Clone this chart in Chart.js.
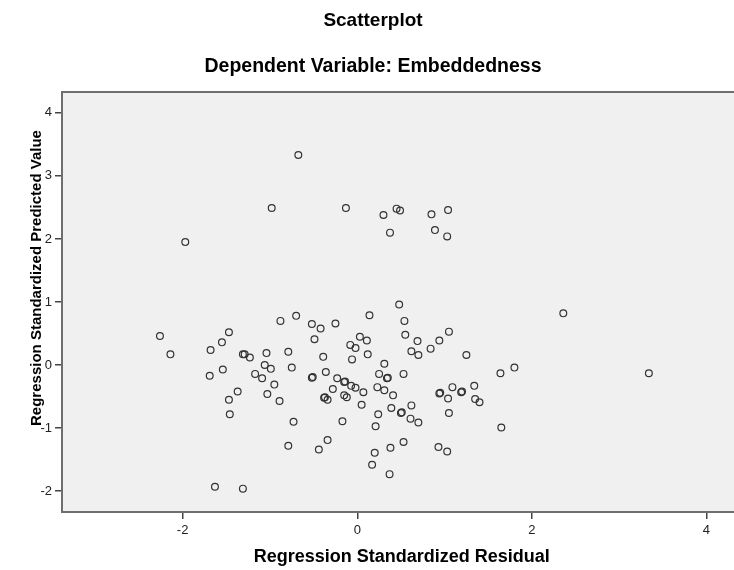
<!DOCTYPE html>
<html>
<head>
<meta charset="utf-8">
<script src="https://cdn.jsdelivr.net/npm/chart.js@4.4.1/dist/chart.umd.min.js"></script>
<style>
  html, body { margin: 0; padding: 0; background: #fff; overflow: hidden; }
  #wrap { width: 746px; height: 570px; }
</style>
</head>
<body>
<div id="wrap"><canvas id="chart"></canvas></div>
<script>
// Regression Standardized Residual (x) / Predicted Value (y)
const residual = [
  -0.675, -0.98, -0.13, 0.30, 0.375, -1.97, 0.45, 0.49, 0.85, 1.04, 0.89, 1.03, 0.48,
  2.36, 1.64, 1.80, 1.65, 3.34,
  -0.88, -2.26, -2.14, -1.47, -1.55, -1.68, -1.31, -1.29, -1.23, -1.04, -1.06, -0.99,
  -1.54, -1.69, -1.17, -1.09, -0.95, -1.37, -1.03, -0.89, -1.47, -1.46, -1.63, -1.31,
  -0.70, -0.52, -0.42, -0.25, 0.14, 0.54, -0.49, 0.55, 0.69, 0.94, 1.05, 0.84, 0.62,
  0.70, 1.25, 0.03, 0.11, -0.08, -0.02, 0.12, -0.06, 0.31, -0.79, -0.39, -0.75, -0.36,
  -0.52, -0.51, -0.23, -0.15, -0.14, -0.07, -0.02, -0.28, 0.07, 0.25, 0.34, 0.35, 0.53,
  0.23, 0.31, 0.41, -0.38, -0.37, -0.34, -0.15, -0.12, 0.05, 0.39, 0.62, 0.50, 0.51,
  0.61, 0.70, 0.24, 0.21, -0.73, -0.17, 0.94, 0.95, 1.09, 1.19, 1.20, 1.04, 1.34, 1.35,
  1.40, 1.05, -0.79, -0.44, -0.34, 0.20, 0.17, 0.38, 0.53, 0.37, 0.93, 1.03
];
const predicted = [
  3.33, 2.49, 2.49, 2.38, 2.10, 1.95, 2.48, 2.45, 2.39, 2.46, 2.14, 2.04, 0.96,
  0.82, -0.13, -0.04, -0.99, -0.13,
  0.70, 0.46, 0.17, 0.52, 0.36, 0.24, 0.17, 0.17, 0.12, 0.19, 0.00, -0.06,
  -0.07, -0.17, -0.14, -0.21, -0.31, -0.42, -0.46, -0.57, -0.55, -0.78, -1.93, -1.96,
  0.78, 0.65, 0.58, 0.66, 0.79, 0.70, 0.41, 0.48, 0.38, 0.39, 0.53, 0.26, 0.22,
  0.16, 0.16, 0.45, 0.39, 0.32, 0.27, 0.17, 0.09, 0.02, 0.21, 0.13, -0.04, -0.11,
  -0.20, -0.19, -0.21, -0.27, -0.26, -0.33, -0.36, -0.38, -0.43, -0.14, -0.21, -0.20, -0.14,
  -0.35, -0.40, -0.48, -0.52, -0.51, -0.55, -0.48, -0.51, -0.63, -0.68, -0.64, -0.76, -0.75,
  -0.85, -0.91, -0.78, -0.97, -0.90, -0.89, -0.45, -0.44, -0.35, -0.43, -0.42, -0.53, -0.33, -0.54,
  -0.59, -0.76, -1.28, -1.34, -1.19, -1.39, -1.58, -1.31, -1.22, -1.73, -1.30, -1.37
];
const xTicks = [-2, 0, 2, 4];
const yTicks = [-2, -1, 0, 1, 2, 3, 4];
const yTitle = 'Regression Standardized Predicted Value';

const FONT = "'Liberation Sans', Arial, sans-serif";

// grey plot panel + frame
const panel = {
  id: 'panel',
  beforeDatasetsDraw(chart) {
    const { ctx, chartArea: a } = chart;
    ctx.save();
    ctx.fillStyle = '#f0f0f0';
    ctx.fillRect(a.left, a.top, a.right - a.left, a.bottom - a.top);
    ctx.strokeStyle = '#6e6e6e';
    ctx.lineWidth = 2;
    ctx.strokeRect(a.left, a.top, a.right - a.left, a.bottom - a.top);
    ctx.restore();
  }
};

// SPSS puts the y title a bit above the middle of the panel
const yTitlePlugin = {
  id: 'yTitle',
  afterDraw(chart) {
    const { ctx, chartArea: a } = chart;
    ctx.save();
    ctx.translate(37, (a.top + a.bottom) / 2 - 24);
    ctx.rotate(-Math.PI / 2);
    ctx.font = 'bold 15px ' + FONT;
    ctx.fillStyle = '#000';
    ctx.textAlign = 'center';
    ctx.textBaseline = 'middle';
    ctx.fillText(yTitle, 0, 0);
    ctx.restore();
  }
};

new Chart(document.getElementById('chart'), {
  type: 'scatter',
  data: {
    datasets: [{
      data: residual.map((x, i) => ({ x: x, y: predicted[i] })),
      pointStyle: 'circle',
      pointRadius: 3.4,
      pointHoverRadius: 3.4,
      borderWidth: 1.2,
      borderColor: '#333',
      backgroundColor: 'rgba(0,0,0,0)'
    }]
  },
  options: {
    responsive: true,
    maintainAspectRatio: false,
    animation: false,
    layout: { padding: 0 },
    plugins: {
      legend: { display: false },
      tooltip: { enabled: false },
      title: {
        display: true, text: 'Scatterplot', color: '#000',
        font: { family: FONT, size: 19, weight: 'bold' },
        padding: { top: 9, bottom: 23 }
      },
      subtitle: {
        display: true, text: 'Dependent Variable: Embeddedness', color: '#000',
        font: { family: FONT, size: 19.5, weight: 'bold' },
        padding: { top: 0, bottom: 13.8 }
      }
    },
    scales: {
      x: {
        type: 'linear', min: -3.382, max: 4.40,
        afterBuildTicks: s => { s.ticks = xTicks.map(v => ({ value: v })); },
        afterFit: s => { s.height = 58; },
        border: { display: false },
        grid: { drawOnChartArea: false, drawTicks: true, tickLength: 7, color: '#444', lineWidth: 1.5 },
        ticks: { color: '#222', padding: 4, maxRotation: 0, font: { family: FONT, size: 13 } },
        title: {
          display: true, text: 'Regression Standardized Residual', color: '#000',
          font: { family: FONT, size: 18, weight: 'bold' },
          padding: { top: 0, bottom: 2.5 }
        }
      },
      y: {
        type: 'linear', min: -2.33, max: 4.33,
        afterBuildTicks: s => { s.ticks = yTicks.map(v => ({ value: v })); },
        afterFit: s => { s.width = 62; },
        border: { display: false },
        grid: { drawOnChartArea: false, drawTicks: true, tickLength: 7, color: '#444', lineWidth: 1.5 },
        ticks: { color: '#222', padding: 3, font: { family: FONT, size: 13 } },
        title: { display: false }
      }
    }
  },
  plugins: [panel, yTitlePlugin]
});
</script>
</body>
</html>
